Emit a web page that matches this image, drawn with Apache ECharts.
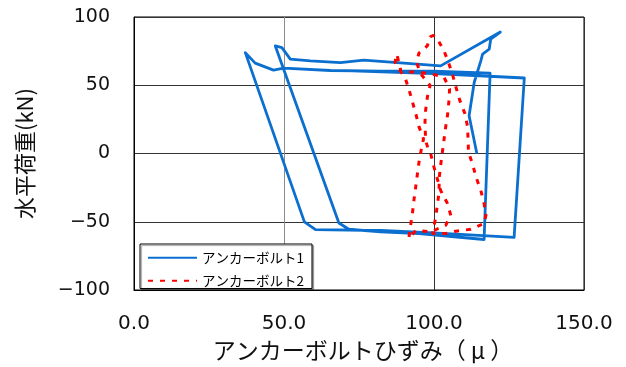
<!DOCTYPE html>
<html>
<head>
<meta charset="utf-8">
<script src="https://cdn.jsdelivr.net/npm/echarts@6/dist/echarts.min.js"></script>
<style>
  html, body { margin: 0; padding: 0; background: #fff; }
  #chart { width: 626px; height: 367px; }
</style>
</head>
<body>
<div id="chart"></div>
<script>
// Horizontal load (kN) vs anchor bolt strain (μ)
const seriesNames = ['アンカーボルト1', 'アンカーボルト2'];

// Anchor bolt 1: [strain, load]
const bolt1 = [
  [114.3, -0.2], [111.7, 27.7], [113.4, 52.0], [115.6, 67.9], [116.2, 72.8],
  [118.4, 76.4], [118.9, 83.7], [122.1, 89.0],
  [102.2, 64.2], [87.8, 66.6], [76.6, 68.4], [68.8, 66.6], [58.8, 67.9],
  [52.1, 69.1], [49.3, 77.6], [47.1, 78.8],
  [68.3, -50.9], [71.6, -55.5], [82.2, -57.4], [95.0, -58.6], [116.7, -63.0],
  [118.7, 58.9],
  [100.0, 60.4], [82.2, 60.3], [65.5, 60.8], [49.9, 62.5], [46.5, 61.1],
  [40.4, 66.2], [37.1, 73.9],
  [56.8, -50.1], [60.5, -55.7], [82.2, -56.4], [100.0, -58.2], [126.7, -61.5],
  [130.1, 55.3],
  [100.0, 58.6], [72.7, 60.6]
];

// Anchor bolt 2: [strain, load]
const bolt2 = [
  [98.9, -0.2], [100.0, -10.0], [102.2, -27.0], [104.5, -36.7], [105.6, -45.3],
  [103.9, -52.6], [99.0, -57.4], [94.0, -56.2], [91.6, -62.3],
  [92.2, -52.6], [92.8, -44.0], [93.3, -34.3], [93.9, -24.6], [94.4, -16.1],
  [95.0, -6.3], [95.8, 3.4], [96.5, 10.7], [95.0, 19.5], [94.2, 26.9],
  [91.9, 45.0], [90.5, 54.7], [88.3, 62.0], [87.0, 66.9], [87.6, 72.8],
  [89.0, 60.0], [94.0, 59.6], [98.9, 58.4], [103.3, 56.0],
  [105.2, 47.4], [105.0, 38.9], [104.5, 28.0], [103.9, 19.5], [103.3, 9.5],
  [102.2, -8.8], [101.7, -18.5], [101.7, -28.2], [101.1, -37.9], [100.6, -46.5],
  [99.5, -58.6],
  [103.9, -58.6], [107.3, -56.9], [112.3, -55.5], [116.7, -51.3],
  [117.3, -45.3], [116.7, -36.7], [115.6, -27.0], [114.0, -17.3], [113.0, -8.8],
  [111.5, 0.9], [111.2, 19.5], [110.3, 29.2], [108.6, 38.9], [107.3, 48.7],
  [106.1, 58.4], [104.8, 66.9], [103.3, 75.4], [101.1, 84.0], [99.8, 86.5],
  [98.7, 85.5],
  [97.8, 79.0], [96.1, 75.4], [95.0, 73.7], [94.2, 66.9], [95.5, 58.5],
  [98.7, 49.9], [97.8, 41.4], [97.2, 31.6], [97.0, 23.1], [97.2, 9.5], [98.4, 1.0]
];

// Axis ranges and tick spacing
const xRange = { min: 0, max: 150, interval: 50 };
const yRange = { min: -100, max: 100, interval: 50 };

const xName = 'アンカーボルトひずみ（ μ ）';
const yName = '水平荷重(kN)';

const chart = echarts.init(document.getElementById('chart'), null, { renderer: 'canvas' });

const cjk = '"Noto Sans CJK JP", "Noto Sans", sans-serif';
const num = '"DejaVu Sans", sans-serif';

chart.setOption({
  animation: false,
  backgroundColor: '#ffffff',
  grid: {
    left: 134, right: 42, top: 17, bottom: 76,
    show: true, borderColor: '#000', borderWidth: 1, backgroundColor: 'transparent'
  },
  legend: {
    orient: 'vertical',
    left: 140, top: 244,
    padding: [7, 8, 1, 7],
    itemGap: 9.5,
    itemWidth: 49,
    itemHeight: 14,
    itemTextGap: 4,
    backgroundColor: '#fff',
    borderColor: '#000',
    borderWidth: 1,
    borderRadius: 0,
    shadowColor: 'rgba(0,0,0,0.35)',
    shadowBlur: 1,
    shadowOffsetX: 1.5,
    shadowOffsetY: 1.5,
    itemStyle: { opacity: 0 },
    textStyle: { fontFamily: cjk, fontSize: 13.5, color: '#000' },
    data: seriesNames
  },
  xAxis: {
    type: 'value',
    min: xRange.min, max: xRange.max, interval: xRange.interval,
    name: xName,
    nameLocation: 'middle',
    nameGap: 49,
    nameTextStyle: { fontFamily: cjk, fontSize: 23, color: '#111', padding: [0, 0, 0, 8] },
    axisLine: { show: true, onZero: false, lineStyle: { color: '#000', width: 1 } },
    axisTick: { show: false },
    axisLabel: {
      margin: 24, fontFamily: num, fontSize: 20, color: '#111',
      formatter: v => v.toFixed(1)
    },
    splitLine: { show: true, lineStyle: { color: ['#333', '#8c8c8c', '#333', '#333'], width: 1 } }
  },
  yAxis: {
    type: 'value',
    min: yRange.min, max: yRange.max, interval: yRange.interval,
    name: yName,
    nameLocation: 'middle',
    nameGap: 98,
    nameRotate: 90,
    nameTextStyle: { fontFamily: cjk, fontSize: 22, color: '#111' },
    axisLine: { show: true, onZero: false, lineStyle: { color: '#000', width: 1 } },
    axisTick: { show: false },
    axisLabel: {
      margin: 24, fontFamily: num, fontSize: 19, color: '#111',
      formatter: v => (v < 0 ? '\u2212' + Math.abs(v) : String(v))
    },
    splitLine: { show: true, lineStyle: { color: '#333', width: 1 } }
  },
  series: [
    {
      name: seriesNames[0],
      type: 'line',
      data: bolt1,
      showSymbol: false,
      symbol: 'none',
      smooth: false,
      lineStyle: { color: '#0b6fcf', width: 2.8, join: 'round' },
      itemStyle: { color: '#0b6fcf' },
      z: 3
    },
    {
      name: seriesNames[1],
      type: 'line',
      data: bolt2,
      showSymbol: false,
      symbol: 'none',
      smooth: false,
      lineStyle: { color: '#ff0000', width: 3, type: [5, 7], cap: 'butt' },
      itemStyle: { color: '#ff0000' },
      z: 4
    }
  ]
});
</script>
</body>
</html>
